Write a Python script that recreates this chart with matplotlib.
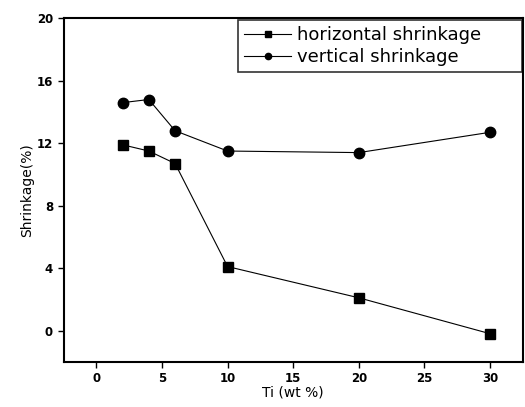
import matplotlib
matplotlib.use("Agg")
import matplotlib.pyplot as plt

ti = [2, 4, 6, 10, 20, 30]
horizontal = [11.9, 11.5, 10.7, 4.1, 2.1, -0.2]
vertical = [14.6, 14.8, 12.8, 11.5, 11.4, 12.7]

xticks = [0, 5, 10, 15, 20, 25, 30]
yticks = [0, 4, 8, 12, 16, 20]

fig = plt.figure(figsize=(5.25, 4.07), dpi=100)
ax = fig.add_axes([0.121, 0.111, 0.875, 0.844])

ax.plot(ti, horizontal, color="black", lw=0.8, marker="s", ms=7,
        label="horizontal shrinkage")
ax.plot(ti, vertical, color="black", lw=0.8, marker="o", ms=7.5,
        label="vertical shrinkage")

ax.set_xlim(-2.5, 32.5)
ax.set_ylim(-2, 20)
ax.set_xticks(xticks)
ax.set_yticks(yticks)
ax.tick_params(direction="out", length=4, width=1, labelsize=8.5)
for lbl in ax.get_xticklabels() + ax.get_yticklabels():
    lbl.set_fontweight("bold")
for s in ax.spines.values():
    s.set_linewidth(1.5)

ax.set_xlabel("Ti (wt %)", fontsize=10, labelpad=0)
ax.set_ylabel("Shrinkage(%)", fontsize=10, labelpad=2)

leg = ax.legend(loc="upper left", bbox_to_anchor=(0.38, 0.995, 0.617, 0),
                mode="expand", fontsize=13, fancybox=False,
                edgecolor="black", borderaxespad=0, handlelength=2.6,
                handletextpad=0.3, labelspacing=0.2, markerscale=0.6,
                borderpad=0.35)
leg.get_frame().set_linewidth(1.2)

fig.savefig("out.png", dpi=100)
